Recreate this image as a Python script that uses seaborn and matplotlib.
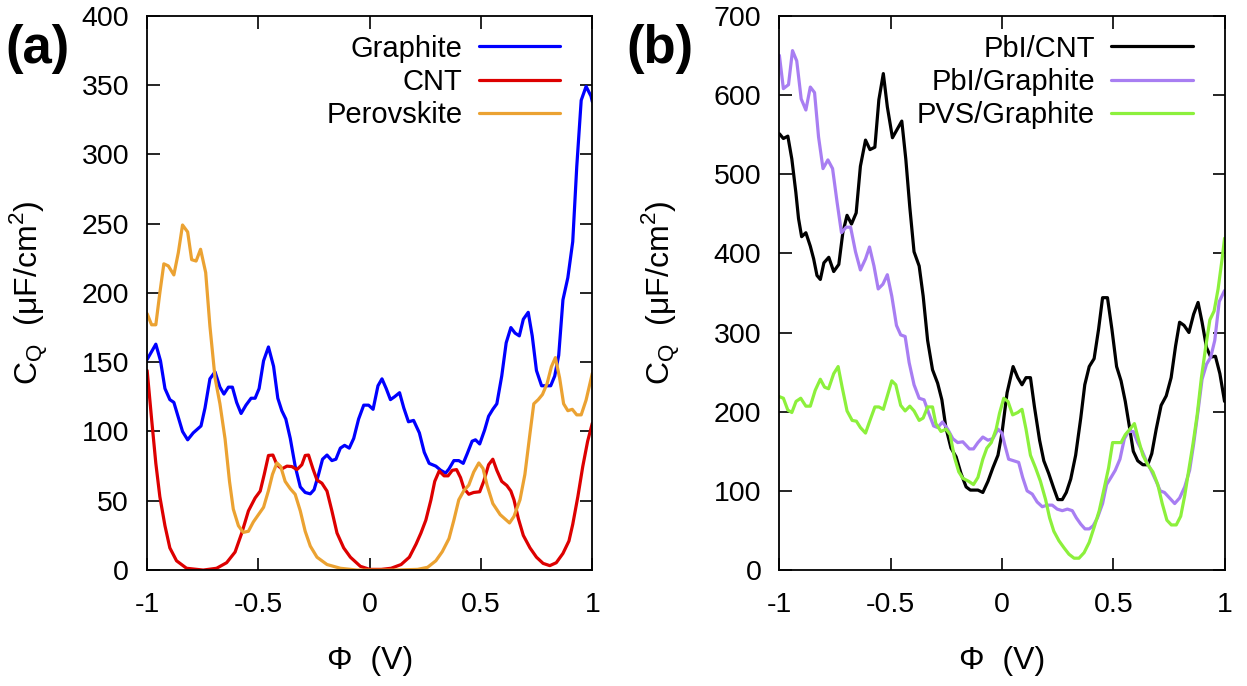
import matplotlib
matplotlib.use("Agg")
import matplotlib.pyplot as plt
import seaborn as sns

# ---- panel (a) ----
graphite_x = [-1, -0.961, -0.94, -0.92, -0.898, -0.88, -0.841, -0.818, -0.793, -0.758, -0.74, -0.718,
              -0.695, -0.673, -0.655, -0.635, -0.617, -0.598, -0.578, -0.556, -0.533, -0.515, -0.497,
              -0.477, -0.455, -0.432, -0.413, -0.395, -0.377, -0.357, -0.335, -0.312, -0.29, -0.267,
              -0.25, -0.23, -0.212, -0.192, -0.17, -0.152, -0.132, -0.113, -0.092, -0.072, -0.05,
              -0.027, -0.005, 0.015, 0.037, 0.055, 0.074, 0.093, 0.111, 0.134, 0.153, 0.174, 0.197,
              0.223, 0.245, 0.267, 0.297, 0.319, 0.341, 0.356, 0.378, 0.4, 0.42, 0.438, 0.46, 0.475,
              0.494, 0.516, 0.534, 0.553, 0.571, 0.593, 0.613, 0.634, 0.653, 0.672, 0.69, 0.712, 0.73,
              0.749, 0.772, 0.794, 0.813, 0.831, 0.849, 0.868, 0.89, 0.912, 0.93, 0.95, 0.972, 0.994, 1.0]
graphite_y = [152, 163, 151, 131, 123, 121, 100, 94, 99, 104, 117, 138, 143, 132, 127, 132, 132, 121,
              113, 119, 124, 124, 131, 151, 161, 147, 124, 115, 109, 95, 75, 60, 56, 55, 58, 69, 80, 83,
              79, 80, 88, 90, 88, 95, 109, 119, 119, 116, 133, 138, 131, 123, 125, 128, 117, 107, 108,
              99, 85, 77, 75, 72, 70, 73, 79, 79, 77, 84, 93, 94, 91, 101, 111, 116, 120, 140, 164, 175,
              171, 169, 181, 186, 169, 144, 133, 133, 133, 140, 155, 195, 211, 237, 291, 339, 349, 342, 338]

cnt_x = [-1, -0.98, -0.961, -0.943, -0.92, -0.898, -0.868, -0.823, -0.748, -0.688, -0.643, -0.605,
         -0.575, -0.545, -0.515, -0.492, -0.474, -0.455, -0.435, -0.417, -0.395, -0.372, -0.35, -0.327,
         -0.305, -0.29, -0.275, -0.255, -0.237, -0.215, -0.192, -0.17, -0.147, -0.117, -0.087, -0.042,
         0.0, 0.052, 0.096, 0.141, 0.178, 0.208, 0.23, 0.252, 0.275, 0.292, 0.312, 0.334, 0.352, 0.371,
         0.39, 0.408, 0.423, 0.445, 0.467, 0.494, 0.512, 0.534, 0.553, 0.571, 0.593, 0.616, 0.634,
         0.648, 0.668, 0.69, 0.72, 0.749, 0.779, 0.809, 0.838, 0.868, 0.895, 0.912, 0.935, 0.957, 0.979, 1.0]
cnt_y = [144, 109, 77, 53, 32, 16, 6.7, 1.3, 0, 1.3, 5.3, 13, 26.7, 42.7, 52, 57, 69, 82.7, 83, 76, 73,
         75, 74.7, 72.5, 76, 82.7, 83, 73, 65, 62.7, 57, 42.7, 26.7, 16, 9.3, 2.7, 0.5, 0.5, 1.3, 4, 9.3,
         18.7, 26.7, 36, 50.7, 64, 71.5, 68, 68, 72, 72.5, 66.7, 59, 54.7, 56, 56.5, 64, 76, 80, 72, 64,
         61, 57, 50.7, 37, 25, 16, 9.3, 4.8, 3.2, 5.3, 12, 21, 33, 53, 74.7, 93, 106]

perov_x = [-1, -0.98, -0.961, -0.943, -0.925, -0.905, -0.88, -0.86, -0.841, -0.818, -0.8, -0.78, -0.76,
           -0.737, -0.718, -0.695, -0.673, -0.65, -0.63, -0.613, -0.59, -0.568, -0.545, -0.523, -0.5,
           -0.477, -0.455, -0.437, -0.417, -0.4, -0.38, -0.357, -0.335, -0.312, -0.29, -0.267, -0.237,
           -0.192, -0.132, -0.057, 0.0, 0.111, 0.215, 0.26, 0.297, 0.326, 0.356, 0.378, 0.4, 0.423, 0.445,
           0.467, 0.49, 0.509, 0.527, 0.553, 0.586, 0.628, 0.648, 0.675, 0.697, 0.72, 0.737, 0.757, 0.776,
           0.797, 0.816, 0.834, 0.853, 0.871, 0.89, 0.91, 0.93, 0.95, 0.972, 1.0]
perov_y = [185, 177, 177, 200, 221, 219.5, 213, 229, 249, 244, 224, 223, 231.5, 214.7, 176, 138.7, 120,
           94.7, 64, 44, 32, 27.2, 28, 34.7, 40, 45.3, 57.3, 69, 77.3, 74.7, 64, 58.7, 54.7, 42.7, 28,
           17.3, 9.3, 4, 1.3, 0, 0, 0, 0.5, 2, 6.7, 13.3, 22.7, 36, 50.7, 57.3, 61.3, 70.7, 77.3, 73.3,
           61.3, 48, 40, 34, 38.7, 50.7, 69, 98.7, 120, 123, 126.7, 134.7, 146.7, 153.3, 138.7, 120, 115,
           116, 112, 112, 122.7, 142]

# ---- panel (b) ----
pbi_cnt_x = [-1, -0.982, -0.962, -0.944, -0.926, -0.914, -0.9, -0.881, -0.861, -0.846, -0.831, -0.816,
             -0.8, -0.778, -0.756, -0.733, -0.715, -0.696, -0.676, -0.655, -0.636, -0.613, -0.593, -0.571,
             -0.553, -0.533, -0.515, -0.492, -0.47, -0.45, -0.432, -0.414, -0.395, -0.372, -0.354, -0.334,
             -0.312, -0.289, -0.27, -0.252, -0.229, -0.206, -0.184, -0.161, -0.142, -0.108, -0.086, -0.063,
             -0.041, -0.018, 0.0, 0.023, 0.05, 0.071, 0.09, 0.108, 0.128, 0.146, 0.169, 0.188, 0.21, 0.233,
             0.251, 0.271, 0.289, 0.309, 0.331, 0.354, 0.372, 0.392, 0.414, 0.434, 0.452, 0.474, 0.494,
             0.515, 0.535, 0.554, 0.572, 0.59, 0.61, 0.633, 0.655, 0.673, 0.693, 0.715, 0.738, 0.76, 0.78,
             0.798, 0.818, 0.84, 0.861, 0.881, 0.899, 0.919, 0.938, 0.959, 0.979, 1.0]
pbi_cnt_y = [551, 545, 548, 519, 477, 444, 421, 426, 409, 393, 372, 367, 388, 395, 377, 386, 426, 448,
             437, 451, 510, 543, 531, 534, 594, 627, 585, 546, 557, 567, 519, 458, 402, 384, 346, 290, 253,
             236, 215, 180, 154, 143, 122, 105, 101, 101, 98, 112, 129, 145, 173, 224, 257, 243, 234, 243,
             243, 206, 164, 138, 122, 103, 89, 89, 98, 115, 145, 192, 234, 257, 267, 304, 344, 344, 304,
             257, 239, 213, 182, 150, 138, 133, 133, 147, 178, 208, 220, 243, 283, 313, 309, 300, 323, 338,
             313, 281, 269, 270, 248, 213]

pbi_gr_x = [-1, -0.982, -0.959, -0.941, -0.922, -0.902, -0.881, -0.861, -0.842, -0.824, -0.804, -0.782,
            -0.761, -0.741, -0.721, -0.7, -0.68, -0.658, -0.636, -0.613, -0.595, -0.575, -0.556, -0.535,
            -0.515, -0.495, -0.474, -0.455, -0.435, -0.417, -0.395, -0.372, -0.35, -0.33, -0.307, -0.289,
            -0.267, -0.244, -0.221, -0.199, -0.176, -0.146, -0.128, -0.108, -0.086, -0.063, -0.041, -0.018,
            0.0, 0.012, 0.03, 0.053, 0.075, 0.093, 0.113, 0.136, 0.158, 0.181, 0.203, 0.226, 0.248, 0.271,
            0.294, 0.316, 0.334, 0.354, 0.373, 0.392, 0.41, 0.429, 0.452, 0.47, 0.49, 0.509, 0.53, 0.55,
            0.569, 0.59, 0.61, 0.63, 0.648, 0.67, 0.693, 0.711, 0.73, 0.753, 0.776, 0.798, 0.821, 0.843,
            0.861, 0.881, 0.899, 0.919, 0.938, 0.956, 0.976, 1.0]
pbi_gr_y = [650, 608, 613, 656, 643, 595, 581, 610, 603, 547, 507, 518, 507, 465, 426, 433, 433, 402,
            379, 393, 408, 384, 355, 361, 373, 346, 309, 297, 295, 262, 234, 217, 215, 199, 182, 180, 187,
            178, 166, 161, 162, 153, 153, 161, 168, 164, 166, 178, 173, 159, 140, 138, 136, 117, 100, 96,
            86, 80, 82, 82, 77, 75, 77, 75, 66, 58, 52, 52, 56, 66, 84, 108, 117, 126, 140, 166, 175, 175,
            161, 150, 138, 126, 112, 100, 98, 91, 84, 91, 105, 126, 159, 201, 241, 260, 269, 290, 339, 353]

pvs_gr_x = [-1, -0.982, -0.962, -0.944, -0.925, -0.904, -0.881, -0.861, -0.839, -0.816, -0.797, -0.779,
            -0.756, -0.736, -0.718, -0.696, -0.673, -0.654, -0.636, -0.613, -0.593, -0.571, -0.553, -0.533,
            -0.515, -0.495, -0.477, -0.455, -0.435, -0.414, -0.395, -0.372, -0.354, -0.334, -0.312, -0.297,
            -0.274, -0.251, -0.233, -0.214, -0.194, -0.176, -0.149, -0.128, -0.108, -0.086, -0.068, -0.048,
            -0.026, -0.011, 0.008, 0.027, 0.048, 0.071, 0.09, 0.108, 0.128, 0.151, 0.173, 0.196, 0.214,
            0.233, 0.256, 0.279, 0.301, 0.324, 0.346, 0.369, 0.392, 0.414, 0.437, 0.459, 0.479, 0.497,
            0.515, 0.535, 0.554, 0.575, 0.595, 0.614, 0.633, 0.655, 0.678, 0.7, 0.72, 0.741, 0.761, 0.783,
            0.803, 0.821, 0.839, 0.858, 0.877, 0.896, 0.916, 0.934, 0.953, 0.971, 0.989, 1.0]
pvs_gr_y = [219, 217, 202, 199, 213, 217, 207, 207, 227, 241, 231, 229, 248, 257, 231, 201, 189, 188,
            180, 173, 189, 206, 206, 203, 220, 239, 234, 208, 201, 207, 201, 189, 192, 206, 206, 185, 175,
            178, 171, 143, 124, 116, 112, 108, 117, 140, 154, 161, 178, 198, 217, 213, 196, 199, 203, 178,
            145, 129, 112, 89, 66, 49, 37, 28, 20, 15, 15, 22, 35, 54, 75, 103, 129, 161, 161, 161, 171,
            178, 185, 164, 145, 133, 124, 108, 84, 63, 57, 57, 68, 94, 126, 159, 196, 243, 283, 316, 327,
            355, 393, 419]

sns.set_style("ticks")
plt.rcParams['font.family'] = ['Liberation Sans', 'DejaVu Sans']
plt.rcParams['axes.unicode_minus'] = False
for k in ['text.color', 'axes.labelcolor', 'xtick.color', 'ytick.color', 'axes.edgecolor']:
    plt.rcParams[k] = 'black'

fig = plt.figure(figsize=(12.47, 6.86), dpi=100)
ax1 = fig.add_axes([0.118, 0.169, 0.357, 0.808])
ax2 = fig.add_axes([0.625, 0.169, 0.357, 0.808])

lw = 2.3
sns.lineplot(x=graphite_x, y=graphite_y, color='#0000FF', lw=lw, label='Graphite', ax=ax1)
sns.lineplot(x=cnt_x, y=cnt_y, color='#DD0000', lw=lw, label='CNT', ax=ax1)
sns.lineplot(x=perov_x, y=perov_y, color='#EBA232', lw=lw, label='Perovskite', ax=ax1)

sns.lineplot(x=pbi_cnt_x, y=pbi_cnt_y, color='black', lw=lw, label='PbI/CNT', ax=ax2)
sns.lineplot(x=pbi_gr_x, y=pbi_gr_y, color='#A87EF2', lw=lw, label='PbI/Graphite', ax=ax2)
sns.lineplot(x=pvs_gr_x, y=pvs_gr_y, color='#8CF03C', lw=lw, label='PVS/Graphite', ax=ax2)

for ax, ymax, step in [(ax1, 400, 50), (ax2, 700, 100)]:
    ax.set_xlim(-1, 1)
    ax.set_ylim(0, ymax)
    ax.set_xticks([-1, -0.5, 0, 0.5, 1])
    ax.set_xticklabels(['-1', '-0.5', '0', '0.5', '1'])
    ax.set_yticks(range(0, ymax + 1, step))
    ax.tick_params(direction='in', length=9, width=1.2, labelsize=20.5,
                   top=True, right=True)
    ax.tick_params(axis='x', pad=16)
    ax.tick_params(axis='y', pad=13)
    for s in ax.spines.values():
        s.set_linewidth(1.3)
        s.set_visible(True)
    ax.set_xlabel('Φ  (V)', fontsize=23, labelpad=20)
    ax.set_ylabel('C$_\\mathregular{Q}$  (μF/cm$^\\mathregular{2}$)', fontsize=23, labelpad=22)
    ax.legend(loc='upper right', bbox_to_anchor=(0.928, 0.966), frameon=False, markerfirst=False,
              fontsize=21, handlelength=2.8, handletextpad=0.55, labelspacing=0.18,
              borderaxespad=0, borderpad=0)

fig.text(0.004, 0.965, '(a)', fontsize=38, fontweight='bold', va='top')
fig.text(0.502, 0.965, '(b)', fontsize=38, fontweight='bold', va='top')

fig.savefig('out.png', dpi=100)
